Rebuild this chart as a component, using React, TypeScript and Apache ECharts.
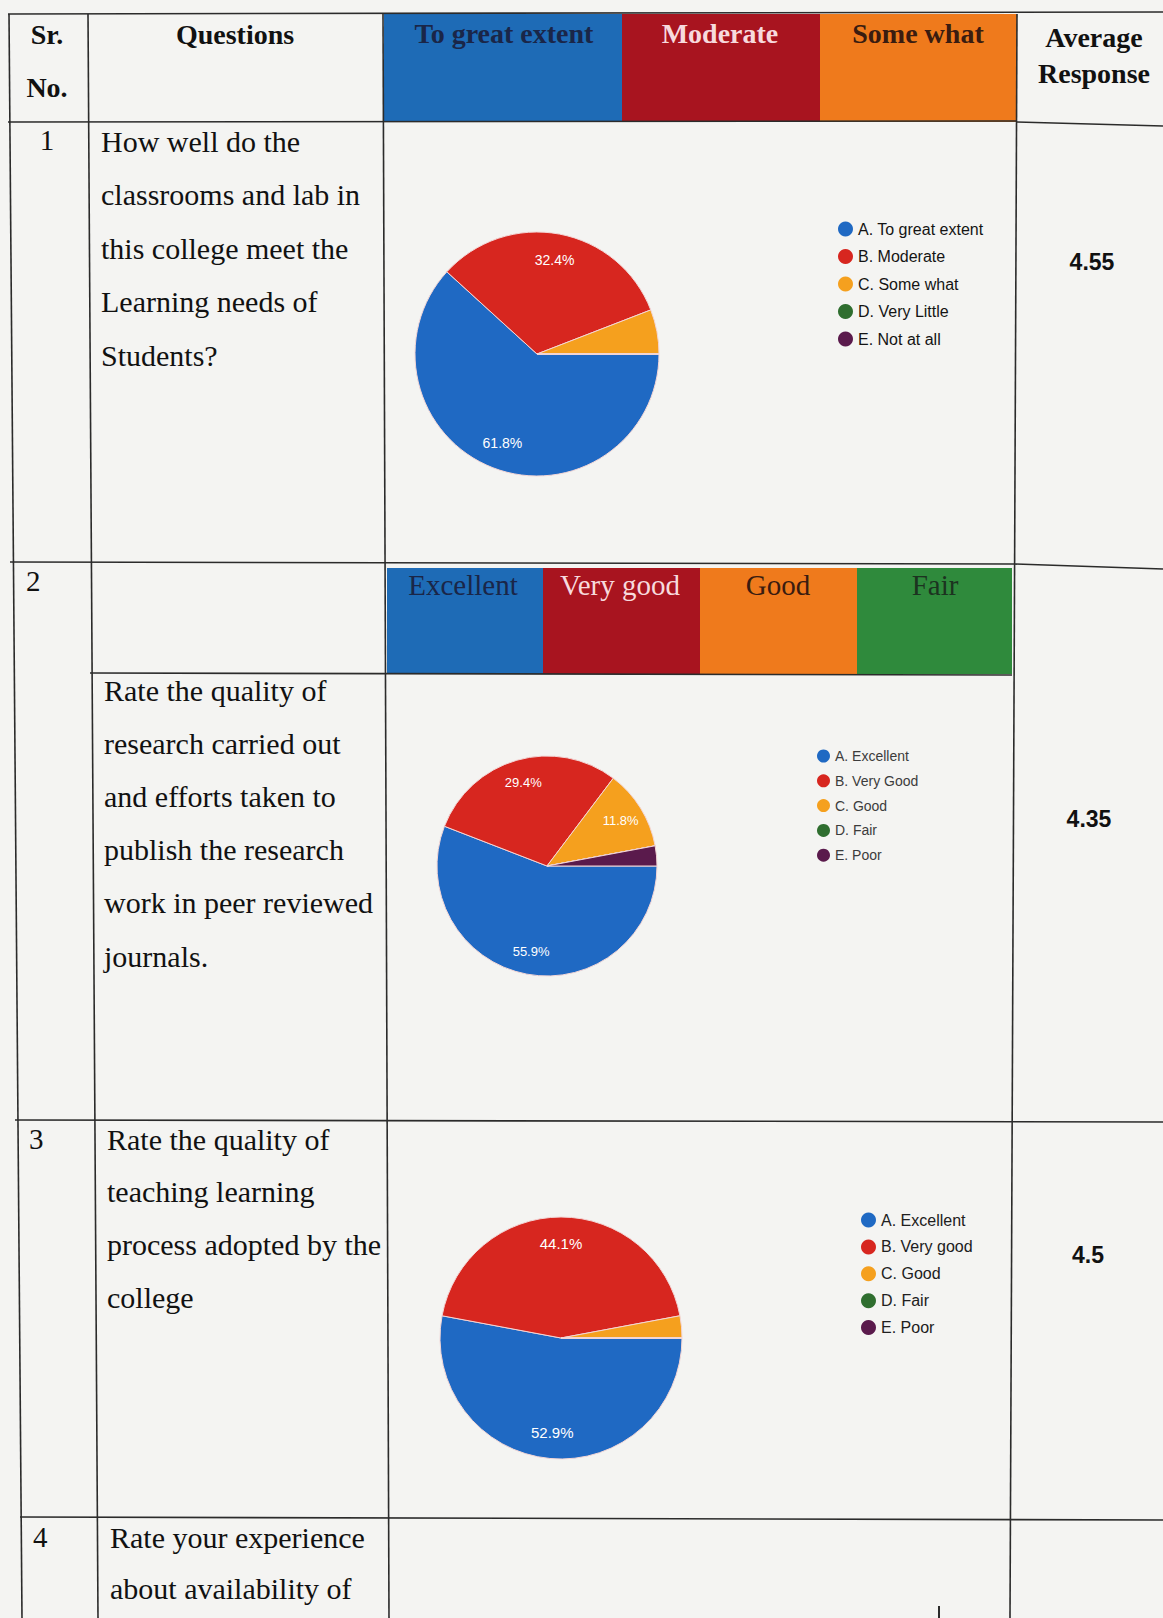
import React, { useEffect, useRef } from "react";
import * as echarts from "echarts";

const W = 1163;
const H = 1618;

// ---------- data ----------
const pie1Names = ["A. To great extent", "B. Moderate", "C. Some what", "D. Very Little", "E. Not at all"];
const pie1Values = [21, 11, 2, 0, 0];
const pie2Names = ["A. Excellent", "B. Very Good", "C. Good", "D. Fair", "E. Poor"];
const pie2Values = [19, 10, 4, 0, 1];
const pie3Names = ["A. Excellent", "B. Very good", "C. Good", "D. Fair", "E. Poor"];
const pie3Values = [18, 15, 1, 0, 0];
const sliceColors = ["#1f69c3", "#d7261f", "#f5a01e", "#2f6e2f", "#5a1a4c"];

const averages = ["4.55", "4.35", "4.5"];
const srNumbers = ["1", "2", "3", "4"];
const header1Labels = ["To great extent", "Moderate", "Some what"];
const header2Labels = ["Excellent", "Very good", "Good", "Fair"];
const questions = [
  ["How well do the", "classrooms and lab in", "this college meet the", "Learning needs of", "Students?"],
  ["Rate the quality of", "research carried out", "and efforts taken to", "publish the research", "work in peer reviewed", "journals."],
  ["Rate the quality of", "teaching learning", "process adopted by the", "college"],
  ["Rate your experience", "about availability of"],
];

// ---------- styles / layout ----------
const SERIF = '"Liberation Serif", "Times New Roman", serif';
const SANS = '"Liberation Sans", Arial, sans-serif';
const LINE = "#2b2b2b";
const headerFills = ["#1e6bb6", "#a8141f", "#ef7a1c", "#2f8a3c"];
const header1TextColors = ["#1a2648", "#f7dadd", "#3a1c10"];
const header2TextColors = ["#1a2648", "#f7dadd", "#3a1c10", "#1c3320"];

function txt(text: string, x: number, y: number, size: number, opts: any = {}) {
  const weight = opts.bold ? "bold" : "normal";
  const family = opts.family || SERIF;
  const align = opts.align || "left";
  return {
    type: "text",
    silent: true,
    style: {
      text,
      x,
      y,
      fill: opts.color || "#111",
      font: `${weight} ${size}px ${family}`,
      textAlign: align,
      textVerticalAlign: "middle",
      align,
      verticalAlign: "middle",
    },
  };
}

function ln(x1: number, y1: number, x2: number, y2: number, w = 1.6) {
  return {
    type: "line",
    silent: true,
    shape: { x1, y1, x2, y2 },
    style: { stroke: LINE, lineWidth: w },
  };
}

function rect(x: number, y: number, w: number, h: number, fill: string) {
  return { type: "rect", silent: true, shape: { x, y, width: w, height: h }, style: { fill } };
}

function buildGraphic() {
  const g: any[] = [];
  // header row coloured cells
  const h1x = [384, 622, 820, 1017];
  for (let i = 0; i < 3; i++) g.push(rect(h1x[i], 14, h1x[i + 1] - h1x[i], 108, headerFills[i]));
  const h2x = [387, 543, 700, 857, 1012];
  for (let i = 0; i < 4; i++) g.push(rect(h2x[i], 568, h2x[i + 1] - h2x[i], 106, headerFills[i]));

  // horizontal lines
  g.push(ln(8, 14, W, 12));
  g.push(ln(8, 122, 1017, 121), ln(1017, 122, W, 126));
  g.push(ln(10, 562, 1014, 564), ln(1014, 564, W, 569));
  g.push(ln(90, 673, 1012, 675));
  g.push(ln(15, 1120, W, 1122));
  g.push(ln(20, 1517, W, 1520));
  // vertical lines
  g.push(ln(9, 14, 22, H));
  g.push(ln(88, 14, 98, H));
  g.push(ln(383, 14, 389, H));
  g.push(ln(1017, 14, 1010, H));
  // stray tick near the bottom
  g.push(ln(939, 1606, 939, H, 2));

  // header texts
  g.push(txt("Sr.", 47, 34, 28, { bold: true, align: "center" }));
  g.push(txt("No.", 47, 87, 28, { bold: true, align: "center" }));
  g.push(txt("Questions", 235, 34, 28, { bold: true, align: "center" }));
  const h1c = [504, 720, 918];
  for (let i = 0; i < 3; i++)
    g.push(txt(header1Labels[i], h1c[i], 33, 28, { bold: true, align: "center", color: header1TextColors[i] }));
  g.push(txt("Average", 1094, 37, 28, { bold: true, align: "center" }));
  g.push(txt("Response", 1094, 73, 28, { bold: true, align: "center" }));
  const h2c = [463, 620, 778, 935];
  for (let i = 0; i < 4; i++)
    g.push(txt(header2Labels[i], h2c[i], 585, 29, { align: "center", color: header2TextColors[i] }));

  // Sr numbers
  const srPos = [
    [47, 140, "center"],
    [26, 581, "left"],
    [29, 1139, "left"],
    [33, 1537, "left"],
  ];
  srNumbers.forEach((s, i) => g.push(txt(s, srPos[i][0] as number, srPos[i][1] as number, 29, { align: srPos[i][2] })));

  // question texts
  const qStart = [
    [101, 141],
    [104, 690],
    [107, 1139],
    [110, 1537],
  ];
  const qStep = [53.5, 53.2, 52.7, 51];
  questions.forEach((lines, qi) =>
    lines.forEach((l, li) => g.push(txt(l, qStart[qi][0], qStart[qi][1] + li * qStep[qi], 30)))
  );

  // averages
  const avPos = [
    [1092, 262],
    [1089, 819],
    [1088, 1255],
  ];
  averages.forEach((a, i) =>
    g.push(txt(a, avPos[i][0], avPos[i][1], 23, { bold: true, family: SANS, align: "center", color: "#111" }))
  );
  return g;
}

function makeData(names: string[], values: number[]) {
  return names.map((n, i) => ({ name: n, value: values[i], itemStyle: { color: sliceColors[i] } }));
}

function piePair(names: string[], values: number[], center: number[], r: number, labelSize: number) {
  const main = {
    type: "pie",
    center,
    radius: r,
    startAngle: 0,
    clockwise: true,
    silent: true,
    label: { show: false },
    labelLine: { show: false },
    itemStyle: { borderColor: "#f3d6d6", borderWidth: 1 },
    data: makeData(names, values),
  };
  const labels = {
    type: "pie",
    center,
    radius: [r * 0.52, r],
    startAngle: 0,
    clockwise: true,
    silent: true,
    labelLine: { show: false },
    label: {
      show: true,
      position: "inside",
      color: "#ffffff",
      fontSize: labelSize,
      fontFamily: SANS,
      formatter: (p: any) => (p.percent >= 10 ? p.percent.toFixed(1) + "%" : ""),
    },
    itemStyle: { color: "rgba(0,0,0,0)", borderWidth: 0 },
    data: names.map((n, i) => ({ name: n, value: values[i], itemStyle: { color: "rgba(0,0,0,0)" } })),
  };
  return [main, labels];
}

function legend(names: string[], left: number, top: number, size: number, icon: number, gap: number, color: string) {
  return {
    data: names,
    orient: "vertical",
    left,
    top,
    icon: "circle",
    itemWidth: icon,
    itemHeight: icon,
    itemGap: gap - Math.max(size, icon),
    selectedMode: false,
    itemStyle: { borderWidth: 0 },
    textStyle: { fontSize: size, lineHeight: size, fontFamily: SANS, color },
  };
}

export default function App() {
  const ref = useRef<HTMLDivElement>(null);
  useEffect(() => {
    document.body.style.margin = "0";
    const chart = echarts.init(ref.current!, undefined, { renderer: "svg" });
    const [p1, l1] = piePair(pie1Names, pie1Values, [537, 354], 122, 14);
    const [p2, l2] = piePair(pie2Names, pie2Values, [547, 866], 110, 13);
    const [p3, l3] = piePair(pie3Names, pie3Values, [561, 1338], 121, 15);
    chart.setOption({
      animation: false,
      backgroundColor: "#f4f4f2",
      legend: [
        legend(pie1Names, 833, 216, 16, 15, 27.5, "#141414"),
        legend(pie2Names, 812, 744, 14, 13, 24.8, "#3c3c3c"),
        legend(pie3Names, 856, 1207, 16, 15, 26.9, "#202020"),
      ],
      graphic: { elements: buildGraphic() },
      series: [p1, p2, p3, l1, l2, l3],
    });
    return () => chart.dispose();
  }, []);
  return <div ref={ref} style={{ width: W, height: H, position: "absolute", left: 0, top: 0 }} />;
}
